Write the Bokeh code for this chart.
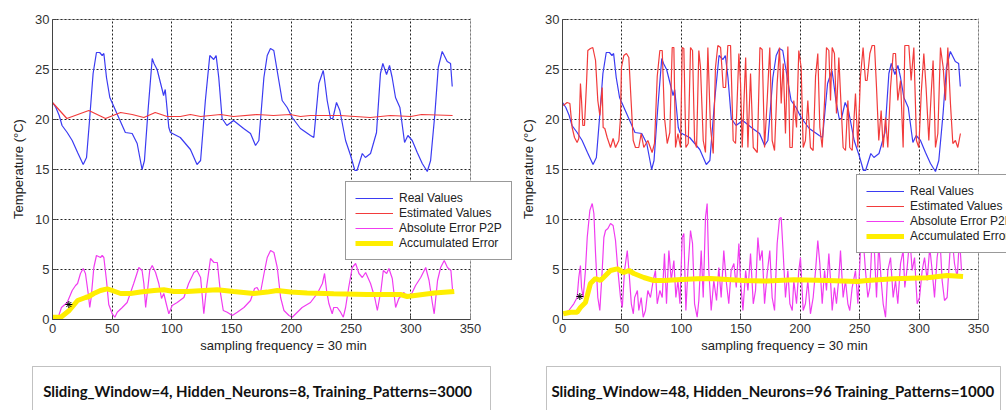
from bokeh.plotting import figure
from bokeh.models import (Range1d, Legend, LegendItem, Label, BoxAnnotation, FixedTicker)
from bokeh.layouts import row, column
from bokeh.embed import file_html
from bokeh.resources import INLINE

# ---------------- data ----------------
real_x = [0, 2.8, 5.6, 8, 12.3, 16.5, 21, 25.7, 28.5, 31, 34, 36.8, 39.5, 41.6, 43, 45.2, 48, 52.8, 61, 66.7,
          70.9, 75, 77, 80, 83.5, 85, 87.6, 91.8, 93, 94.4, 97.4, 98.8, 107, 115.5, 121, 124, 128, 131.7, 135,
          137, 139.2, 142, 146, 151.6, 160, 165.8, 170, 172.8, 177, 179.8, 182.5, 185.3, 189.5, 192.3, 196.5,
          200.7, 207.6, 216, 218.8, 223, 226.7, 227.8, 230, 232.8, 234.7, 237.8, 240.6, 245.4, 249.6, 253.2,
          255, 259.4, 262, 266.3, 271.3, 274.6, 276.6, 279.7, 282.2, 284.4, 287.2, 290.9, 294.8, 297.6, 301.2,
          305.4, 309.6, 313.8, 316.6, 320.2, 323, 326.3, 330.5, 333.3, 334.7]
real_y = [21.7, 21.2, 20.4, 19.4, 18.7, 17.9, 16.7, 15.5, 16.2, 19.9, 24.6, 26.7, 26.7, 26.4, 26.6, 24.2, 22.2,
          20.9, 18.7, 18.6, 17.6, 15.0, 15.9, 20.9, 26.1, 25.6, 25.0, 23.0, 22.4, 23.0, 19.2, 18.7, 18.2, 17.0,
          15.5, 15.9, 21.9, 26.4, 26.0, 26.4, 24.2, 20.1, 19.4, 19.9, 19.1, 18.6, 17.4, 17.9, 24.2, 26.4, 27.1,
          26.9, 23.9, 21.9, 21.2, 20.2, 19.1, 18.4, 18.2, 23.6, 24.9, 24.0, 21.9, 20.1, 20.1, 21.7, 20.9, 17.9,
          16.4, 14.9, 14.9, 16.6, 16.2, 16.6, 18.7, 24.6, 25.6, 24.5, 25.4, 24.2, 22.2, 21.2, 17.7, 18.4, 17.9,
          16.7, 15.6, 14.8, 15.9, 20.6, 25.2, 26.8, 25.8, 25.6, 23.3]

est1_x = [0, 12, 30.4, 44.4, 57, 66.7, 76.5, 86, 96, 107, 115.5, 124, 140.7, 151.6, 171, 185, 199, 207.6, 216,
          241, 266, 283, 300, 309, 335]
est1_y = [21.7, 20.1, 20.9, 20.1, 20.7, 20.5, 20.2, 20.7, 20.3, 20.3, 20.5, 20.3, 20.5, 20.3, 20.5, 20.4, 20.5,
          20.3, 20.4, 20.4, 20.2, 20.4, 20.3, 20.5, 20.4]

err1_x = [0, 5, 7.5, 12.3, 16.5, 19.3, 21, 23.4, 25.7, 27.6, 29.9, 31.2, 32.4, 34.6, 36.8, 40.2, 41.6, 43, 45.2,
          47.1, 50, 52.2, 54.2, 58.4, 62.5, 68, 72.3, 75, 76.5, 78, 79.3, 81.4, 83.5, 86.3, 89, 91.3, 93.2, 95.2,
          97.4, 100.2, 104.4, 110, 114, 118.4, 121, 124, 126.7, 129, 132.3, 135.2, 138, 140.7, 143, 146.3, 150.5,
          154.7, 160.3, 165.8, 169.2, 171.3, 174, 177.6, 179.8, 182.6, 185.4, 188.2, 191, 193.8, 198, 200.7, 205,
          209, 216, 221.7, 226, 227.8, 229.5, 231.4, 234.2, 235.5, 238.4, 241.2, 243.5, 245.4, 248, 251, 253.8,
          256.6, 259.4, 262.2, 266.3, 269.8, 272, 275, 277, 279.8, 281.7, 284.5, 287.3, 290, 294.3, 297, 300,
          304, 308.3, 312.5, 315.3, 318, 319.6, 322.4, 325, 328, 330.7, 333.6, 335]
err1_y = [0.1, 0.3, 1.2, 1.7, 2.9, 3.4, 3.6, 4.6, 5.1, 4.6, 2.6, 1.2, 2.2, 5.2, 6.4, 6.2, 6.4, 6.2, 3.9, 1.5, 0.57,
          0.23, 0.73, 1.2, 1.7, 3.6, 5.2, 4.9, 3.6, 1.2, 2.6, 4.9, 5.4, 4.7, 3.6, 2.1, 2.6, 1.6, 0.57, 1.4, 1.7,
          2.2, 3.6, 4.7, 4.9, 4.2, 0.57, 3.2, 6.1, 5.7, 5.7, 2.6, 0.9, 0.73, 0.4, 0.73, 1.2, 1.9, 3.1, 3.2, 2.6,
          4.9, 6.2, 6.9, 6.7, 5.2, 2.2, 0.9, 0.4, 0.23, 0.73, 1.2, 1.7, 2.6, 3.6, 4.6, 2.9, 1.6, 0.57, 1.2, 1.2,
          0.73, 0.23, 1.2, 3.2, 5.2, 5.6, 4.6, 4.2, 4.7, 3.6, 2.2, 0.9, 2.9, 4.9, 4.6, 5.1, 4.1, 1.2, 2.1, 2.7,
          2.2, 2.4, 3.4, 4.2, 5.2, 3.9, 1.7, 0.57, 3.9, 5.2, 5.9, 5.2, 4.9, 2.9]

acc1_x = [0, 7, 14, 21, 27.7, 30.5, 34.6, 40.2, 45.8, 50, 57, 65.3, 73.7, 85, 93.2, 101.6, 112.8, 126.7, 138,
          151.6, 168.4, 179.8, 188.2, 199.3, 213.2, 235.5, 263.4, 291.3, 297, 319.6, 336.4]
acc1_y = [0.23, 0.23, 0.9, 1.9, 2.2, 2.3, 2.6, 2.9, 3.07, 2.9, 2.6, 2.6, 2.74, 2.9, 2.97, 2.8, 2.8, 2.9, 2.97,
          2.8, 2.6, 2.74, 2.9, 2.74, 2.64, 2.57, 2.5, 2.5, 2.3, 2.64, 2.8]

est2_x = [0.6, 3.9, 6.2, 8.1, 10.1, 12.3, 13.7, 15.1, 16, 17.1, 18.5, 20.2, 21.3, 23.5, 25.5, 27.8, 29.7, 31.4,
          33.4, 34.2, 35.6, 37.6, 40.4, 42.6, 44.6, 47.4, 48.8, 49.6, 51.6, 53.8, 55.8, 57.7, 59.5, 61.4, 64.2,
          66.2, 68.4, 71.8, 75.4, 77.4, 79.7, 81.9, 83.9, 85.8, 88.1, 90.3, 92.3, 93.7, 95.1, 97.1, 99.3, 100.7,
          102.1, 103.8, 105.8, 107.7, 109.4, 111.1, 112.8, 114.7, 116.1, 118.4, 120.3, 122.3, 124.5, 126.8,
          128.7, 130.7, 133, 135.2, 137.2, 139.1, 141.4, 143.6, 145.6, 148.4, 149.8, 151.2, 154.1, 156, 158.2,
          160.5, 163.9, 166.1, 168, 170, 172.2, 174.4, 176.4, 178.4, 180.6, 182.6, 184, 185.7, 187.6, 189.6,
          191.3, 193.3, 194.6, 196.9, 198.8, 200.8, 202.5, 204.4, 206.4, 208.6, 210.9, 212.9, 214.8, 216.5,
          218.5, 220.5, 222.1, 224.1, 225.5, 226.9, 228.8, 230.5, 232.5, 233.9, 236.1, 238.1, 240.1, 241.7,
          243.7, 246.5, 248.5, 250.7, 252.9, 254.9, 256.3, 258.6, 260.5, 262.5, 264.2, 266.1, 268.1, 269.8,
          271.8, 273.7, 276, 278.2, 280.2, 282.1, 284.4, 286.6, 288, 291.4, 293.3, 295.6, 297.8, 299.8, 301.8,
          304, 305.9, 308.2, 310.2, 311.8, 313.8, 315.8, 318, 320.3, 322.2, 324.2, 326.4, 328.4, 330.6, 332.6,
          334.8]
est2_y = [21.4, 21.7, 21.6, 19.2, 18.2, 17.7, 18.1, 23.6, 21.9, 19.4, 19.4, 23.6, 26.9, 27.1, 27.2, 25.9, 21.9,
          20.4, 23.2, 19.2, 19.1, 18.2, 17.2, 18.1, 17.2, 17.9, 20.2, 25.2, 26.4, 26.6, 26.2, 21.9, 17.9, 17.2,
          17.2, 18.6, 17.2, 17.9, 16.7, 17.6, 24.3, 26.9, 26.9, 20.2, 17.6, 18.7, 27.2, 27.2, 17.2, 18.6, 17.2,
          27.2, 27.1, 17.2, 17.6, 27.2, 26.9, 17.9, 17.2, 26.9, 25.2, 17.9, 16.7, 27.2, 19.2, 16.6, 25.2, 27.4,
          27.2, 23.2, 23.2, 27.4, 27.4, 17.9, 17.6, 26.6, 23.6, 17.2, 26.2, 17.2, 24.6, 17.2, 16.7, 27.2, 27.0,
          17.2, 21.9, 27.2, 17.9, 16.9, 23.6, 27.2, 21.6, 25.6, 18.6, 27.3, 17.2, 17.2, 21.9, 19.2, 26.9, 25.2,
          17.2, 17.9, 21.9, 17.2, 16.9, 24.3, 26.6, 19.2, 17.2, 21.9, 27.2, 26.9, 21.9, 27.2, 26.6, 20.6, 26.2,
          22.6, 17.2, 16.9, 21.9, 17.2, 16.9, 22.6, 17.2, 24.3, 27.2, 23.9, 23.9, 26.6, 27.4, 27.4, 23.2, 17.9,
          20.9, 17.2, 20.2, 17.2, 23.2, 26.6, 26.6, 21.9, 23.9, 17.2, 27.4, 27.4, 23.9, 27.2, 17.9, 17.2, 22.6,
          26.6, 23.2, 17.9, 22.6, 25.9, 17.2, 18.6, 27.2, 25.2, 21.9, 27.2, 21.6, 17.6, 17.9, 17.2, 18.6]

err2_x = [0.6, 5.3, 9.5, 12.3, 13.7, 15.1, 16, 17.4, 19.3, 20.8, 23, 25, 26.4, 27.8, 29.7, 31.4, 33.4, 34.8, 36.2,
          38.2, 40.4, 42.6, 44.6, 46.6, 48.8, 50.3, 52.2, 54.5, 55.9, 57.9, 59.6, 60.7, 63, 64.2, 66.2, 67.9, 69.8,
          71.8, 74, 76.3, 78.2, 79.7, 81.9, 83.9, 85.8, 87.5, 89.5, 91.5, 93.7, 95.4, 97.1, 98.8, 100.7, 102.1,
          103.8, 105.5, 107.7, 109.4, 111.1, 113.3, 114.7, 116.7, 118.4, 120.3, 121.7, 123.1, 125.1, 127.3, 129.6,
          131.5, 133.5, 135.7, 137.7, 139.9, 141.9, 144.2, 146.2, 148.4, 149.8, 151.8, 154.1, 156, 158.2, 160.5,
          162.4, 164.4, 166.1, 168, 170, 172.2, 174.4, 176.4, 178.4, 180.6, 182.6, 184, 185.7, 187.6, 189.6,
          191.3, 193.3, 194.6, 196.9, 198.8, 200.2, 202.5, 204.4, 206.4, 208.6, 210.9, 212.9, 214.8, 216.5,
          218.5, 220.5, 222.1, 224.1, 225.5, 226.9, 228.8, 230.5, 232.5, 233.9, 236.1, 238.1, 240.1, 241.7,
          243.7, 246.5, 248.5, 250.7, 252.9, 254.9, 256.9, 258.6, 260.5, 262.5, 264.2, 266.1, 268.1, 269.8,
          271.8, 273.7, 276, 278.2, 280.2, 282.1, 284.4, 286.6, 288, 290, 292.2, 294.2, 296.2, 298.4, 300.4,
          302.6, 304.6, 306.8, 309, 311, 313, 315.2, 317.5, 319.4, 321.4, 323.6, 325.9, 327.8, 329.8, 332.1,
          334, 335.7]
err2_y = [0.57, 0.9, 1.57, 2.2, 4.2, 5.4, 3.2, 2.2, 4.9, 8.2, 10.9, 11.6, 10.6, 6.6, 2.2, 0.9, 4.9, 8.2, 8.9, 9.1,
          9.6, 9.4, 7.9, 4.9, 2.2, 1.2, 4.9, 6.9, 4.9, 1.57, 0.57, 2.2, 2.9, 0.9, 2.2, 0.23, 0.9, 2.9, 2.2, 3.9,
          4.9, 1.57, 2.9, 2.2, 6.6, 1.57, 6.9, 3.9, 5.9, 2.2, 3.9, 1.57, 8.2, 8.6, 0.9, 4.9, 8.9, 7.6, 1.57, 0.23,
          1.9, 6.9, 2.2, 10.2, 11.6, 4.9, 0.9, 3.9, 1.9, 5.2, 2.2, 6.9, 3.9, 1.57, 4.9, 5.6, 3.2, 7.6, 3.9, 0.9,
          4.9, 2.9, 6.6, 1.57, 2.9, 8.2, 5.9, 6.9, 1.57, 4.6, 6.9, 2.2, 0.9, 7.6, 10.1, 10.2, 6.6, 2.2, 4.9,
          1.57, 0.9, 3.9, 1.57, 4.9, 6.2, 0.9, 1.57, 3.9, 0.57, 2.2, 4.9, 7.9, 5.6, 1.57, 4.9, 2.9, 6.6, 3.9,
          0.9, 3.2, 1.57, 4.2, 6.9, 2.2, 3.9, 1.57, 0.9, 3.2, 4.9, 1.57, 6.9, 8.2, 4.9, 2.2, 3.2, 8.2, 6.6, 2.2,
          7.6, 3.9, 1.57, 0.23, 4.9, 6.2, 2.2, 3.9, 1.57, 5.6, 6.9, 3.2, 5.2, 8.2, 4.9, 6.2, 1.57, 2.2, 4.9, 6.2,
          3.9, 7.2, 4.9, 2.2, 6.2, 8.2, 3.9, 1.9, 2.2, 6.6, 8.2, 5.6, 4.2, 8.2, 4.9]

acc2_x = [0.6, 6.8, 12.3, 15.1, 19.3, 23.5, 27.7, 32, 36.2, 40.4, 46, 51.6, 55.9, 60, 68.4, 76.8, 85.2, 96.4,
          113.3, 124.5, 138.5, 152.5, 172.2, 194.6, 222.7, 248, 256.3, 278.7, 306.8, 323.6, 337]
acc2_y = [0.57, 0.73, 0.73, 1.2, 1.7, 3.6, 4.1, 3.9, 4.4, 4.9, 5.07, 4.7, 4.9, 4.6, 4.2, 3.9, 3.9, 3.97, 4.07,
          4.1, 4.0, 3.9, 3.85, 3.97, 3.9, 3.8, 3.9, 4.07, 4.17, 4.4, 4.3]

star1_x, star1_y = [13.7], [1.5]
star2_x, star2_y = [14.6], [2.3]

x_ticks = [0, 50, 100, 150, 200, 250, 300, 350]
y_ticks = [0, 5, 10, 15, 20, 25, 30]
x_max = 350
y_max = 30
legend_labels = ["Real Values", "Estimated Values", "Absolute Error P2P", "Accumulated Error"]
caption1 = "Sliding_Window=4,  Hidden_Neurons=8,  Training_Patterns=3000"
caption2 = "Sliding_Window=48, Hidden_Neurons=96 Training_Patterns=1000"

BLUE = "#3b3bf2"
RED = "#f23b3b"
MAG = "#f03cf0"
YEL = "#ffee00"
FONT = "Liberation Sans"
AX = "#444444"


def panel(width, bl, box_px, frame_px, est_x, est_y, err_x, err_y, acc_x, acc_y, sx, sy, leg_loc):
    # the frame is wider than the 0..350 axes box so that the legend may overhang the box
    px_per_unit = box_px / x_max
    x_end = x_max + (frame_px - box_px) / px_per_unit
    p = figure(width=width, height=364, x_range=Range1d(0, x_end), y_range=Range1d(0, y_max + 0.1),
               output_backend="svg", toolbar_location=None,
               min_border_left=bl, min_border_right=width - bl - frame_px, min_border_top=18,
               min_border_bottom=45)
    p.background_fill_color = "white"
    p.border_fill_color = "white"
    p.outline_line_color = None
    p.xaxis.ticker = FixedTicker(ticks=x_ticks)
    p.yaxis.ticker = FixedTicker(ticks=y_ticks)
    p.xaxis.bounds = (0, x_max)
    p.yaxis.bounds = (0, y_max)
    for ax in (p.xaxis[0], p.yaxis[0]):
        ax.axis_line_color = AX
        ax.major_tick_line_color = AX
        ax.major_tick_in = 4
        ax.major_tick_out = 0
        ax.minor_tick_line_color = None
        ax.major_label_text_font = FONT
        ax.major_label_text_font_size = "13px"
        ax.major_label_text_color = "#333333"
        ax.axis_label_text_font = FONT
        ax.axis_label_text_font_size = "13px"
        ax.axis_label_text_font_style = "normal"
        ax.axis_label_text_color = "#222222"
    p.xaxis.axis_label = "sampling frequency = 30 min"
    p.yaxis.axis_label = "Temperature (°C)"
    p.xaxis.major_label_standoff = 4
    p.yaxis.major_label_standoff = 3
    p.xaxis.axis_label_standoff = 2
    p.yaxis.axis_label_standoff = 6
    p.grid.grid_line_color = "#222222"
    p.grid.grid_line_dash = "2 2"
    p.grid.grid_line_width = 1

    r1 = p.line(real_x, real_y, line_color=BLUE, line_width=1.2)
    r2 = p.line(est_x, est_y, line_color=RED, line_width=1.2)
    r3 = p.line(err_x, err_y, line_color=MAG, line_width=1.2)
    r4 = p.line(acc_x, acc_y, line_color=YEL, line_width=5)
    p.scatter(sx, sy, marker="asterisk", size=7, line_color="black", line_width=1)

    # blank the area right of the axes box, then outline the axes box
    p.add_layout(BoxAnnotation(left=x_max, fill_color="white", fill_alpha=1, line_color=None))
    p.add_layout(BoxAnnotation(left=0, right=x_max, bottom=0, top=y_max, fill_alpha=0,
                               line_color=AX, line_width=1))

    legend = Legend(items=[LegendItem(label=l, renderers=[r]) for l, r in zip(legend_labels, [r1, r2, r3, r4])],
                    location=leg_loc, margin=0, padding=9, spacing=1, glyph_width=38, glyph_height=14,
                    label_height=14, label_standoff=6, label_text_font=FONT, label_text_font_size="12px",
                    label_text_color="#222222", border_line_color="#333333", border_line_width=1,
                    background_fill_color="white", background_fill_alpha=1.0)
    p.add_layout(legend)
    return p


def caption_fig(width, box_l, box_r, text, text_x):
    c = figure(width=width, height=46, x_range=Range1d(0, 1), y_range=Range1d(0, 1),
               x_axis_type=None, y_axis_type=None, output_backend="svg", toolbar_location=None,
               min_border_left=0, min_border_right=0, min_border_top=0, min_border_bottom=0)
    c.outline_line_color = None
    c.background_fill_color = "white"
    c.border_fill_color = "white"
    c.add_layout(BoxAnnotation(left=box_l, right=box_r, top=44, bottom=-30,
                               left_units="screen", right_units="screen", top_units="screen",
                               bottom_units="screen", fill_alpha=0, line_color="#333333", line_width=1))
    c.add_layout(Label(x=text_x, y=20, x_units="screen", y_units="screen", text=text,
                       text_align="center", text_baseline="middle", text_font="Lato",
                       text_font_style="bold", text_font_size="15px", text_color="#111111"))
    return c


p1 = panel(514, 52, 418, 462, est1_x, est1_y, err1_x, err1_y, acc1_x, acc1_y, star1_x, star1_y, (293, 59))
p2 = panel(492, 48, 416, 444, est2_x, est2_y, err2_x, err2_y, acc2_x, acc2_y, star2_x, star2_y, (294, 66))
c1 = caption_fig(514, 32, 490, caption1, 261)
c2 = caption_fig(492, 32, 486, caption2, 258.5)

layout = column(row(p1, p2), row(c1, c2))
open("out.html", "w").write(file_html(layout, INLINE))
